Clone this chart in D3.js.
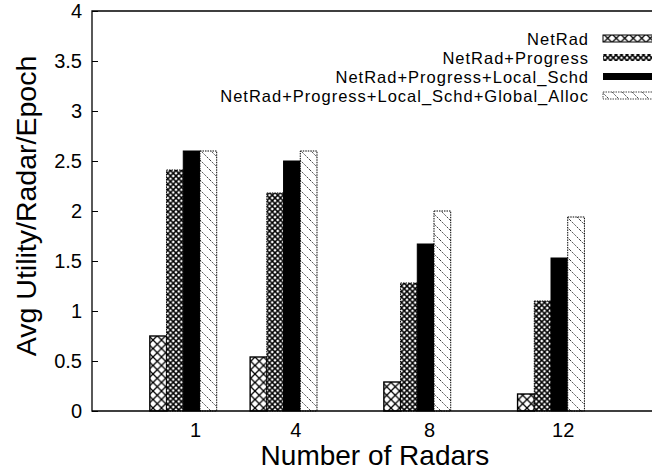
<!DOCTYPE html>
<html>
<head>
<meta charset="utf-8">
<script src="https://cdnjs.cloudflare.com/ajax/libs/d3/7.8.5/d3.min.js"></script>
<style>
  body { margin: 0; background: #fff; }
  svg { font-family: "Liberation Sans", Arial, Helvetica, sans-serif; }
</style>
</head>
<body>
<script>
// chart data
var radars = [1, 4, 8, 12];
var seriesNames = ["NetRad", "NetRad+Progress", "NetRad+Progress+Local_Schd",
                   "NetRad+Progress+Local_Schd+Global_Alloc"];
var netRad      = [0.75, 0.54, 0.29, 0.17];
var progress    = [2.41, 2.18, 1.28, 1.10];
var localSchd   = [2.60, 2.50, 1.67, 1.53];
var globalAlloc = [2.60, 2.60, 2.00, 1.94];
var yTickValues = [0, 0.5, 1, 1.5, 2, 2.5, 3, 3.5, 4];

function draw() {
  "use strict";
  var width = 652, height = 471;
  var left = 92, top = 11, bottom = 411;

  var svg = d3.select("body").append("svg")
      .attr("width", width)
      .attr("height", height);

  // fill patterns, gnuplot style
  var defs = svg.append("defs");

  var p1 = defs.append("pattern").attr("id", "pat-cross")
      .attr("patternUnits", "userSpaceOnUse").attr("width", 8.5).attr("height", 8.5);
  p1.append("rect").attr("width", 8.5).attr("height", 8.5).attr("fill", "#fff");
  p1.append("path").attr("d", "M0,0L8.5,8.5M8.5,0L0,8.5")
      .attr("stroke", "#000").attr("stroke-width", 1.3);

  var p2 = defs.append("pattern").attr("id", "pat-fine")
      .attr("patternUnits", "userSpaceOnUse").attr("width", 5.5).attr("height", 5.5);
  p2.append("rect").attr("width", 5.5).attr("height", 5.5).attr("fill", "#fff");
  p2.append("path").attr("d", "M0,0L5.5,5.5M5.5,0L0,5.5")
      .attr("stroke", "#000").attr("stroke-width", 1.5);

  var p5 = defs.append("pattern").attr("id", "pat-back")
      .attr("patternUnits", "userSpaceOnUse").attr("width", 10).attr("height", 10);
  p5.append("rect").attr("width", 10).attr("height", 10).attr("fill", "#fff");
  p5.append("path").attr("d", "M0,0L10,10M-5,5L5,15M5,-5L15,5")
      .attr("stroke", "#222").attr("stroke-width", 0.9)
      .attr("stroke-dasharray", "1.5,1");

  var fills = ["url(#pat-cross)", "url(#pat-fine)", "#000", "url(#pat-back)"];
  var dashes = [null, "1.5,1", null, "1.5,1"];
  var values = [netRad, progress, localSchd, globalAlloc];

  // scales
  var x = d3.scaleLinear().domain([-2.08, 15]).range([left, 663]);
  var y = d3.scaleLinear().domain([0, 4]).range([bottom, top]);

  // y axis with inward ticks
  var yAxis = d3.axisLeft(y).tickValues(yTickValues)
      .tickSize(-6).tickPadding(10)
      .tickFormat(d3.format("~g"));
  var gy = svg.append("g").attr("transform", "translate(" + left + ",0)").call(yAxis);
  gy.select(".domain").remove();
  gy.selectAll("text").style("font-size", "20px").attr("fill", "#000");
  gy.selectAll("line").attr("stroke", "#000");

  // x axis labels
  var xAxis = d3.axisBottom(x).tickValues(radars).tickSize(-6).tickPadding(12);
  var gx = svg.append("g").attr("transform", "translate(0," + bottom + ")").call(xAxis);
  gx.select(".domain").remove();
  gx.selectAll("text").style("font-size", "20px").attr("fill", "#000");
  gx.selectAll("line").attr("stroke", "#000");

  // bars
  var barW = 0.5, shift = -1.35;
  values.forEach(function (vals, s) {
    svg.append("g").selectAll("rect")
      .data(radars)
      .enter().append("rect")
        .attr("x", function (d) { return x(d + shift + s * barW); })
        .attr("width", x(barW) - x(0))
        .attr("y", function (d, i) { return y(vals[i]); })
        .attr("height", function (d, i) { return bottom - y(vals[i]); })
        .attr("fill", fills[s])
        .attr("stroke", "#000")
        .attr("stroke-width", s === 0 ? 1.4 : 1)
        .attr("stroke-dasharray", dashes[s]);
  });

  // border: left, top and bottom lines
  svg.append("path")
      .attr("d", "M" + width + "," + top + "H" + left + "V" + bottom + "H" + width)
      .attr("fill", "none").attr("stroke", "#000").attr("stroke-width", 1.3);

  // legend
  var legend = svg.append("g");
  seriesNames.forEach(function (name, s) {
    var cy = 38.5 + s * 19;
    legend.append("text")
        .attr("x", 589).attr("y", cy + 6)
        .attr("text-anchor", "end")
        .style("font-size", "16.5px")
        .style("letter-spacing", "1px")
        .text(name);
    legend.append("rect")
        .attr("x", 603).attr("y", cy - 3.5)
        .attr("width", 52).attr("height", 7)
        .attr("fill", fills[s])
        .attr("stroke", s === 0 ? "#000" : (s === 3 ? "#444" : "none"))
        .attr("stroke-dasharray", s === 3 ? "1.5,1" : null);
  });

  // axis titles
  svg.append("text")
      .attr("x", 375).attr("y", 465)
      .attr("text-anchor", "middle")
      .style("font-size", "28px")
      .text("Number of Radars");

  svg.append("text")
      .attr("transform", "translate(36,206) rotate(-90)")
      .attr("text-anchor", "middle")
      .style("font-size", "28.5px")
      .text("Avg Utility/Radar/Epoch");
}

draw();
</script>
</body>
</html>
